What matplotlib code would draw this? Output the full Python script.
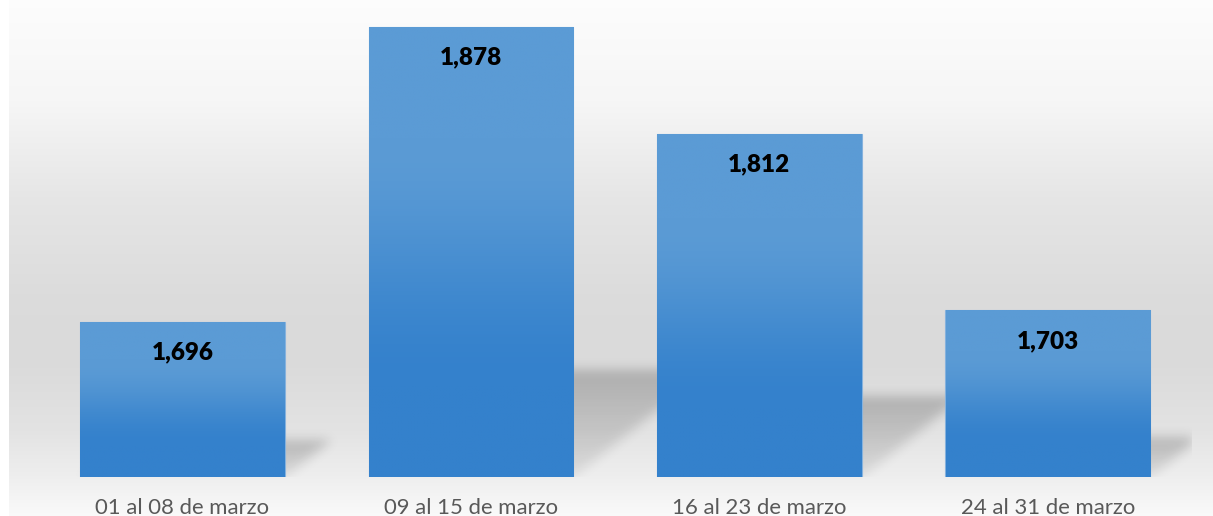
import numpy as np
import matplotlib
matplotlib.use("Agg")
import matplotlib.pyplot as plt
from matplotlib.colors import to_rgb

# ---------------- data ----------------
categories = ["01 al 08 de marzo", "09 al 15 de marzo", "16 al 23 de marzo", "24 al 31 de marzo"]
values = [1696, 1878, 1812, 1703]
value_labels = ["1,696", "1,878", "1,812", "1,703"]

# ---------------- layout / style ----------------
W_PX, H_PX = 1213, 516
Y_MIN = 1600
PX_PER_UNIT = 1.6209
AX_LEFT, AX_RIGHT = 38.3, 1191.9
AX_BOTTOM_PX = 477.3           # from top
AX_H = AX_BOTTOM_PX
Y_MAX = Y_MIN + AX_H / PX_PER_UNIT
BAR_W = 0.71
TOP_COL = np.array(to_rgb("#5b9bd5"))
BOT_COL = np.array(to_rgb("#3481cc"))
SH_K = 0.237      # shadow height fraction
SH_SKEW = 0.30    # shadow horizontal skew per bar height (px/px)
FONT = ["Lato", "DejaVu Sans"]

fig = plt.figure(figsize=(W_PX / 100, H_PX / 100), dpi=100)
fig.patch.set_facecolor("white")

# background gradient
bg = fig.add_axes([9 / W_PX, 0, 1 - 9 / W_PX, 1], zorder=0)
rows = np.arange(H_PX)
stops_y = [0, 100, 200, 300, 360, 430, 477, 516]
stops_v = [0.99, 0.965, 0.90, 0.86, 0.855, 0.89, 0.935, 0.98]
g = np.interp(rows, stops_y, stops_v)
bg_img = np.repeat(g[:, None], 3, axis=1)[:, None, :]
bg.imshow(bg_img, aspect="auto", extent=(0, 1, 0, 1), origin="upper", interpolation="bilinear")
bg.set_xlim(0, 1)
bg.set_ylim(0, 1)
bg.axis("off")

# main axes
ax = fig.add_axes([AX_LEFT / W_PX, (H_PX - AX_BOTTOM_PX) / H_PX,
                   (AX_RIGHT - AX_LEFT) / W_PX, AX_H / H_PX], zorder=1)
ax.patch.set_alpha(0)
x = np.arange(len(categories))
xlim = (-0.5, len(categories) - 0.5)

# shadows (raster, computed from bar geometry)
nx, ny = int(round(AX_RIGHT - AX_LEFT)), int(round(AX_H))
PX, PY = np.meshgrid(np.arange(nx) + 0.5, np.arange(ny) + 0.5)
x_to_px = nx / (xlim[1] - xlim[0])
y_to_px = ny / (Y_MAX - Y_MIN)
shade = np.zeros((ny, nx))
for xi, v in zip(x, values):
    hpx = (v - Y_MIN) * y_to_px
    t = PY / (SH_K * hpx)
    left = (xi - BAR_W / 2 - xlim[0]) * x_to_px
    right = left + BAR_W * x_to_px
    x0 = PX - SH_SKEW * hpx * t
    m = (t >= 0) & (t <= 1) & (x0 >= left) & (x0 <= right)
    shade = np.maximum(shade, np.where(m, 0.35 + 0.65 * t, 0.0))


def blur(a, s):
    r = int(3 * s)
    k = np.exp(-0.5 * (np.arange(-r, r + 1) / s) ** 2)
    k /= k.sum()
    a = np.apply_along_axis(lambda row: np.convolve(row, k, mode="same"), 1, a)
    a = np.apply_along_axis(lambda col: np.convolve(col, k, mode="same"), 0, a)
    return a


shade = blur(shade, 5.5)
sh_rgba = np.zeros((ny, nx, 4))
sh_rgba[..., 3] = 0.21 * shade
ax.imshow(sh_rgba, extent=(xlim[0], xlim[1], Y_MIN, Y_MAX), origin="lower",
          aspect="auto", zorder=1, interpolation="bilinear")

# bars
bars = ax.bar(x, values, width=BAR_W, color="#4a8fd1", edgecolor="#86b2dd",
              linewidth=0.8, zorder=2)
ng = 256
tt = np.linspace(0, 1, ng)  # 0 top -> 1 bottom
s = np.clip((tt - 0.25) / 0.55, 0, 1)
s = s * s * (3 - 2 * s)
grad = (TOP_COL[None, :] * (1 - s[:, None]) + BOT_COL[None, :] * s[:, None])[:, None, :]
for b, v in zip(bars, values):
    x0 = b.get_x()
    im = ax.imshow(grad, extent=(x0 + 0.001, x0 + b.get_width() - 0.001, Y_MIN, v),
                   origin="upper", aspect="auto", zorder=2.5, interpolation="bilinear")
    im.set_clip_path(b)

# value labels
for xi, v, lbl in zip(x, values, value_labels):
    ax.annotate(lbl, xy=(xi, v), xytext=(0, -27.4), textcoords="offset points",
                ha="center", va="baseline", fontsize=17.5, fontweight="heavy",
                family=FONT, color="black", zorder=5)

ax.set_xlim(*xlim)
ax.set_ylim(Y_MIN, Y_MAX)
ax.set_xticks(x, categories)
ax.tick_params(axis="x", length=0, pad=26.6, labelsize=15.9, labelcolor="#595959")
for t in ax.get_xticklabels():
    t.set_verticalalignment("baseline")
    t.set_fontfamily(FONT)
ax.set_yticks([])
for sp in ax.spines.values():
    sp.set_visible(False)

fig.savefig("out.png", dpi=100)
